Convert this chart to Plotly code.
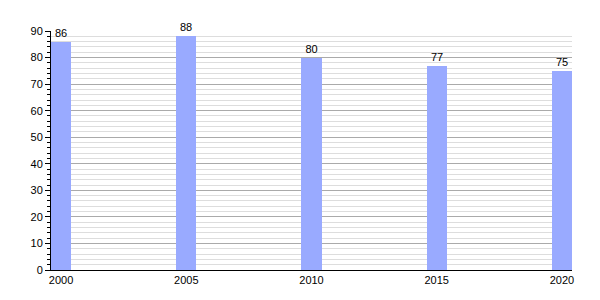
import plotly.graph_objects as go

years = [2000, 2005, 2010, 2015, 2020]
values = [86, 88, 80, 77, 75]
labels = ["86", "88", "80", "77", "75"]

fig = go.Figure()
fig.add_trace(go.Bar(
    x=years, y=values, width=0.8,
    marker=dict(color="#99aaff", line=dict(width=0)),
    text=labels, textposition="outside", cliponaxis=False,
    textfont=dict(family="Liberation Sans, Arial", size=11, color="black"),
))
fig.update_layout(
    width=600, height=300,
    margin=dict(l=51, r=28, t=31, b=30),
    paper_bgcolor="white", plot_bgcolor="white",
    showlegend=False,
    font=dict(family="Liberation Sans, Arial", size=11, color="black"),
    bargap=0,
)
fig.update_xaxes(
    range=[1999.6, 2020.4], tickmode="array", tickvals=years,
    ticktext=[str(y) for y in years],
    showline=True, linecolor="black", linewidth=1,
    showgrid=False, ticks="", zeroline=False,
)
fig.update_yaxes(
    range=[0, 90], tickmode="linear", tick0=0, dtick=10,
    showline=True, linecolor="black", linewidth=1,
    showgrid=True, gridcolor="#aaaaaa", gridwidth=1,
    ticks="outside", ticklen=5, tickcolor="black",
    zeroline=False,
    minor=dict(dtick=2, showgrid=True, gridcolor="#dddddd",
               ticks="outside", ticklen=3, tickcolor="black"),
)
fig.write_html("out.html")
